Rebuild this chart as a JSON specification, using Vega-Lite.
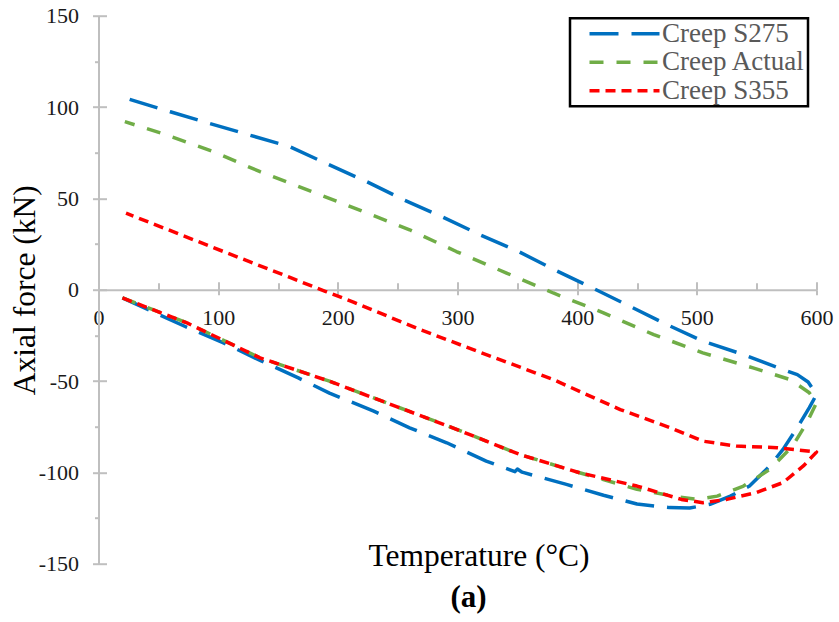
{
  "$schema": "https://vega.github.io/schema/vega-lite/v6.json",
  "width": 718,
  "height": 548,
  "autosize": "none",
  "padding": {"left": 98.5, "top": 15.7, "right": 22.5, "bottom": 58.3},
  "background": "white",
  "title": {"text": "(a)", "orient": "bottom", "anchor": "middle", "font": "Liberation Serif", "fontSize": 31, "fontWeight": "bold", "color": "#000000", "dx": 11, "offset": 8},
  "data": {"values": [
    {"s":"Creep S275","i":0,"t":20,"f":-4.5},{"s":"Creep S275","i":1,"t":72,"f":-20},{"s":"Creep S275","i":2,"t":104,"f":-29},{"s":"Creep S275","i":3,"t":136,"f":-39},{"s":"Creep S275","i":4,"t":167,"f":-48.3},{"s":"Creep S275","i":5,"t":193,"f":-56.6},{"s":"Creep S275","i":6,"t":230,"f":-66.5},{"s":"Creep S275","i":7,"t":260,"f":-75.6},{"s":"Creep S275","i":8,"t":291,"f":-83.8},{"s":"Creep S275","i":9,"t":324,"f":-93.8},{"s":"Creep S275","i":10,"t":348,"f":-99.6},{"s":"Creep S275","i":11,"t":350,"f":-98.2},{"s":"Creep S275","i":12,"t":354,"f":-99.9},{"s":"Creep S275","i":13,"t":391,"f":-106.6},{"s":"Creep S275","i":14,"t":422,"f":-112.5},{"s":"Creep S275","i":15,"t":450,"f":-117.3},{"s":"Creep S275","i":16,"t":477,"f":-119.3},{"s":"Creep S275","i":17,"t":494,"f":-119.5},{"s":"Creep S275","i":18,"t":511,"f":-117.5},{"s":"Creep S275","i":19,"t":528,"f":-113},{"s":"Creep S275","i":20,"t":544,"f":-107.5},{"s":"Creep S275","i":21,"t":561,"f":-96.5},{"s":"Creep S275","i":22,"t":572,"f":-87.4},{"s":"Creep S275","i":23,"t":583,"f":-76.5},{"s":"Creep S275","i":24,"t":594,"f":-64.6},{"s":"Creep S275","i":25,"t":600,"f":-57.4},{"s":"Creep S275","i":26,"t":593,"f":-50.5},{"s":"Creep S275","i":27,"t":584,"f":-46.5},{"s":"Creep S275","i":28,"t":572,"f":-43.7},{"s":"Creep S275","i":29,"t":539,"f":-35.5},{"s":"Creep S275","i":30,"t":505,"f":-28.2},{"s":"Creep S275","i":31,"t":475,"f":-19.1},{"s":"Creep S275","i":32,"t":444,"f":-9.1},{"s":"Creep S275","i":33,"t":413,"f":0.9},{"s":"Creep S275","i":34,"t":381,"f":10.9},{"s":"Creep S275","i":35,"t":351,"f":20.9},{"s":"Creep S275","i":36,"t":319,"f":30},{"s":"Creep S275","i":37,"t":287,"f":40},{"s":"Creep S275","i":38,"t":255,"f":49.2},{"s":"Creep S275","i":39,"t":224,"f":59.2},{"s":"Creep S275","i":40,"t":193,"f":68.3},{"s":"Creep S275","i":41,"t":160,"f":78.3},{"s":"Creep S275","i":42,"t":126,"f":84.7},{"s":"Creep S275","i":43,"t":93,"f":91},{"s":"Creep S275","i":44,"t":60,"f":97.4},{"s":"Creep S275","i":45,"t":19,"f":105.6},
    {"s":"Creep Actual","i":0,"t":20,"f":-4.5},{"s":"Creep Actual","i":1,"t":74,"f":-18.2},{"s":"Creep Actual","i":2,"t":135,"f":-37.3},{"s":"Creep Actual","i":3,"t":193,"f":-50.1},{"s":"Creep Actual","i":4,"t":241,"f":-62},{"s":"Creep Actual","i":5,"t":296,"f":-75.6},{"s":"Creep Actual","i":6,"t":352,"f":-90.2},{"s":"Creep Actual","i":7,"t":402,"f":-100.2},{"s":"Creep Actual","i":8,"t":450,"f":-109.3},{"s":"Creep Actual","i":9,"t":480,"f":-113},{"s":"Creep Actual","i":10,"t":500,"f":-114.8},{"s":"Creep Actual","i":11,"t":517,"f":-113},{"s":"Creep Actual","i":12,"t":539,"f":-107.5},{"s":"Creep Actual","i":13,"t":561,"f":-98.4},{"s":"Creep Actual","i":14,"t":580,"f":-85.6},{"s":"Creep Actual","i":15,"t":592,"f":-72.8},{"s":"Creep Actual","i":16,"t":600,"f":-61.9},{"s":"Creep Actual","i":17,"t":594,"f":-56.4},{"s":"Creep Actual","i":18,"t":578,"f":-49.2},{"s":"Creep Actual","i":19,"t":547,"f":-42.8},{"s":"Creep Actual","i":20,"t":505,"f":-34.6},{"s":"Creep Actual","i":21,"t":464,"f":-24.6},{"s":"Creep Actual","i":22,"t":422,"f":-12.7},{"s":"Creep Actual","i":23,"t":380,"f":-1.8},{"s":"Creep Actual","i":24,"t":341,"f":9.1},{"s":"Creep Actual","i":25,"t":299,"f":20.9},{"s":"Creep Actual","i":26,"t":260,"f":32.8},{"s":"Creep Actual","i":27,"t":221,"f":42.8},{"s":"Creep Actual","i":28,"t":189,"f":51},{"s":"Creep Actual","i":29,"t":135,"f":64.6},{"s":"Creep Actual","i":30,"t":96,"f":75.6},{"s":"Creep Actual","i":31,"t":53,"f":85.6},{"s":"Creep Actual","i":32,"t":22,"f":92},
    {"s":"Creep S355","i":0,"t":20,"f":-4.5},{"s":"Creep S355","i":1,"t":74,"f":-18.2},{"s":"Creep S355","i":2,"t":135,"f":-37.3},{"s":"Creep S355","i":3,"t":193,"f":-50.1},{"s":"Creep S355","i":4,"t":241,"f":-62},{"s":"Creep S355","i":5,"t":296,"f":-75.6},{"s":"Creep S355","i":6,"t":352,"f":-90.2},{"s":"Creep S355","i":7,"t":402,"f":-100.2},{"s":"Creep S355","i":8,"t":450,"f":-107.5},{"s":"Creep S355","i":9,"t":487,"f":-114.8},{"s":"Creep S355","i":10,"t":505,"f":-116.6},{"s":"Creep S355","i":11,"t":525,"f":-114.8},{"s":"Creep S355","i":12,"t":550,"f":-111},{"s":"Creep S355","i":13,"t":572,"f":-105.6},{"s":"Creep S355","i":14,"t":589,"f":-96.5},{"s":"Creep S355","i":15,"t":600,"f":-88.9},{"s":"Creep S355","i":16,"t":567,"f":-86.5},{"s":"Creep S355","i":17,"t":533,"f":-85.6},{"s":"Creep S355","i":18,"t":505,"f":-82.9},{"s":"Creep S355","i":19,"t":478,"f":-75.6},{"s":"Creep S355","i":20,"t":436,"f":-65.6},{"s":"Creep S355","i":21,"t":380,"f":-49.2},{"s":"Creep S355","i":22,"t":324,"f":-35.5},{"s":"Creep S355","i":23,"t":269,"f":-21.9},{"s":"Creep S355","i":24,"t":213,"f":-6.8},{"s":"Creep S355","i":25,"t":190,"f":-1},{"s":"Creep S355","i":26,"t":160,"f":6.7},{"s":"Creep S355","i":27,"t":104,"f":21},{"s":"Creep S355","i":28,"t":23,"f":41.9}
  ]},
  "layer": [
    {
      "mark": {"type": "line", "strokeWidth": 3.5, "strokeCap": "butt", "strokeJoin": "round"},
      "encoding": {
        "x": {"field": "t", "type": "quantitative", "scale": {"domain": [0, 600], "nice": false, "zero": false},
          "axis": {"orient": "bottom", "offset": -274, "values": [0,50,100,150,200,250,300,350,400,450,500,550,600],
            "labelExpr": "datum.value % 100 === 0 ? '' + datum.value : ''",
            "tickSize": {"condition": {"test": "datum.value % 100 !== 0", "value": 0}, "value": 5},
            "labelPadding": 13, "labelFlush": false, "labelOverlap": false,
            "labelFont": "Liberation Serif", "labelFontSize": 22, "labelColor": "#1a1a1a",
            "title": "Temperature (°C)", "titleFont": "Liberation Serif", "titleFontSize": 31.5, "titleFontWeight": "normal", "titleColor": "#000000",
            "titleX": 380, "titleY": 276, "titleBaseline": "alphabetic", "titleAlign": "center"}},
        "y": {"field": "f", "type": "quantitative", "scale": {"domain": [-150, 150], "nice": false, "zero": false},
          "axis": {"orient": "left", "values": [-150,-125,-100,-75,-50,-25,0,25,50,75,100,125,150],
            "labelExpr": "datum.value % 50 === 0 ? '' + datum.value : ''",
            "tickSize": {"condition": {"test": "datum.value % 50 !== 0", "value": 4}, "value": 6},
            "labelPadding": 14, "labelFlush": false, "labelOverlap": false,
            "labelFont": "Liberation Serif", "labelFontSize": 22, "labelColor": "#1a1a1a",
            "title": "Axial force (kN)", "titleFont": "Liberation Serif", "titleFontSize": 31.5, "titleFontWeight": "normal", "titleColor": "#000000",
            "titleX": -64.5, "titleY": 274, "titleBaseline": "alphabetic", "titleAlign": "center", "titleAngle": 270}},
        "color": {"field": "s", "type": "nominal",
          "scale": {"domain": ["Creep S275", "Creep Actual", "Creep S355"], "range": ["#0070C0", "#70AD47", "#FF0000"]},
          "legend": {"orient": "none", "legendX": 471.5, "legendY": 2.6, "title": null, "labelFont": "Liberation Serif"}},
        "strokeDash": {"field": "s", "type": "nominal",
          "scale": {"domain": ["Creep S275", "Creep Actual", "Creep S355"], "range": [[29, 13], [14, 13], [10, 6]]},
          "legend": {"orient": "none", "legendX": 471.5, "legendY": 2.6, "title": null, "labelFont": "Liberation Serif"}},
        "order": {"field": "i", "type": "quantitative"}
      }
    },
    {
      "mark": {"type": "line", "opacity": 0},
      "encoding": {
        "x": {"field": "t", "type": "quantitative",
          "axis": {"orient": "top", "offset": -274, "values": [0,50,100,150,200,250,300,350,400,450,500,550,600],
            "labels": false, "domain": false, "title": null,
            "tickSize": {"condition": {"test": "datum.value % 100 !== 0", "value": 7}, "value": 8}}},
        "y": {"field": "f", "type": "quantitative",
          "axis": {"orient": "right", "offset": -718, "values": [-150,-100,-50,0,50,100,150],
            "labels": false, "domain": false, "title": null, "tickSize": 8}},
        "detail": {"field": "s", "type": "nominal"},
        "order": {"field": "i", "type": "quantitative"}
      }
    }
  ],
  "resolve": {"axis": {"x": "independent", "y": "independent"}},
  "config": {
    "font": "Liberation Serif",
    "view": {"stroke": null},
    "axis": {
      "grid": false,
      "domainColor": "#BFBFBF", "domainWidth": 2,
      "tickColor": "#BFBFBF", "tickWidth": 2,
      "labelFont": "Liberation Serif", "titleFont": "Liberation Serif"
    },
    "legend": {
      "symbolType": "M-5,0H5", "symbolSize": 196, "symbolStrokeWidth": 3.5, "symbolOffset": 39,
      "labelFont": "Liberation Serif", "labelFontSize": 27, "labelColor": "#595959", "labelOffset": 24,
      "padding": 2, "rowPadding": 0.5, "strokeColor": "#000000", "strokeWidth": 2.5, "labelLimit": 400
    }
  }
}
